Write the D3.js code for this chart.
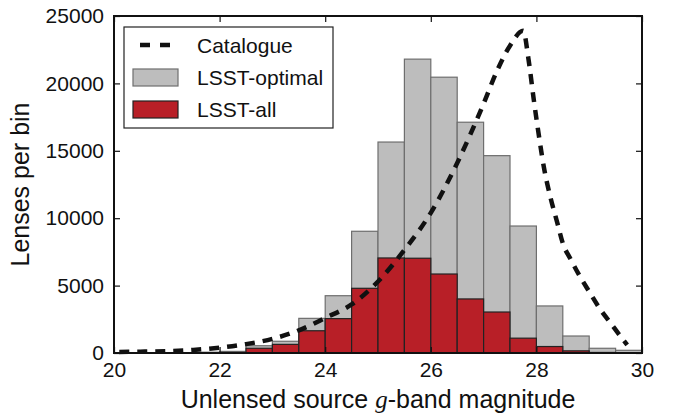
<!DOCTYPE html>
<html>
<head>
<meta charset="utf-8">
<script src="https://d3js.org/d3.v7.min.js"></script>
<style>
  body { margin: 0; background: #fff; }
  svg text { font-family: "Liberation Sans", Arial, sans-serif; fill: #111; }
</style>
</head>
<body>
<svg id="chart" width="680" height="416"></svg>
<script>
// lower edge of each 0.5-mag bin
var binLo = [20.0, 20.5, 21.0, 21.5, 22.0, 22.5, 23.0, 23.5, 24.0, 24.5,
             25.0, 25.5, 26.0, 26.5, 27.0, 27.5, 28.0, 28.5, 29.0, 29.5];
var binWidth = 0.5;
var lsstOptimal = [0, 10, 30, 60, 120, 540, 870, 2570, 4250, 9030,
                   15650, 21800, 20460, 17120, 14640, 9420, 3490, 1260, 350, 200];
var lsstAll = [0, 0, 10, 20, 40, 350, 640, 1650, 2550, 4800,
               7050, 7030, 5860, 4010, 3040, 1100, 480, 160, 40, 15];

// catalogue curve
var catMag = [20.1, 20.5, 21.0, 21.5, 22.0, 22.5, 23.0, 23.5, 24.0, 24.5, 25.0, 25.5,
              26.0, 26.5, 27.0, 27.25, 27.5, 27.75, 27.85, 27.95, 28.05, 28.15, 28.25,
              28.4, 28.5, 28.65, 28.8, 29.0, 29.2, 29.4, 29.6, 29.72];
var catCount = [80, 100, 140, 230, 400, 660, 1050, 1680, 2600, 3600, 5300, 7650,
                10400, 14100, 18500, 20900, 22800, 23900, 21800, 18800, 16050, 13600, 11800,
                9600, 8140, 6950, 5850, 4550, 3300, 2250, 1200, 600];

var xTicks = [20, 22, 24, 26, 28, 30];
var yTicks = [0, 5000, 10000, 15000, 20000, 25000];

var svg = d3.select("#chart");
var margin = {top: 16, right: 38, bottom: 63, left: 114},
    width = 680 - margin.left - margin.right,
    height = 416 - margin.top - margin.bottom;

var x = d3.scaleLinear().domain([20, 30]).range([0, width]);
var y = d3.scaleLinear().domain([0, 25000]).range([height, 0]);

var g = svg.append("g")
    .attr("transform", "translate(" + margin.left + "," + margin.top + ")");

var bins = binLo.map(function(d, i) {
    return {lo: d, hi: d + binWidth, opt: lsstOptimal[i], all: lsstAll[i]};
});

// grey bars
g.selectAll(".opt")
    .data(bins)
    .enter().append("rect")
    .attr("class", "opt")
    .attr("x", function(d) { return x(d.lo); })
    .attr("width", function(d) { return x(d.hi) - x(d.lo); })
    .attr("y", function(d) { return y(d.opt); })
    .attr("height", function(d) { return y(0) - y(d.opt); })
    .attr("fill", "#bdbdbd")
    .attr("stroke", "#6e6e6e")
    .attr("stroke-width", 1.2);

// red bars
g.selectAll(".all")
    .data(bins)
    .enter().append("rect")
    .attr("class", "all")
    .attr("x", function(d) { return x(d.lo); })
    .attr("width", function(d) { return x(d.hi) - x(d.lo); })
    .attr("y", function(d) { return y(d.all); })
    .attr("height", function(d) { return y(0) - y(d.all); })
    .attr("fill", "#b81f27")
    .attr("stroke", "#222")
    .attr("stroke-width", 1.2);

// catalogue dashed line
var line = d3.line()
    .x(function(d) { return x(d[0]); })
    .y(function(d) { return y(d[1]); })
    .curve(d3.curveMonotoneX);

g.append("path")
    .datum(catMag.map(function(m, i) { return [m, catCount[i]]; }))
    .attr("d", line)
    .attr("fill", "none")
    .attr("stroke", "#111")
    .attr("stroke-width", 4.5)
    .attr("stroke-dasharray", "10,8");

// axes with inward ticks
var xAxis = g.append("g")
    .attr("transform", "translate(0," + height + ")")
    .call(d3.axisBottom(x).tickValues(xTicks).tickSize(-6).tickPadding(9).tickFormat(d3.format("d")));
var xTop = g.append("g")
    .call(d3.axisTop(x).tickValues(xTicks).tickSize(-6).tickFormat(""));
var yAxis = g.append("g")
    .call(d3.axisLeft(y).tickValues(yTicks).tickSize(-6).tickPadding(10).tickFormat(d3.format("d")));
var yRight = g.append("g")
    .attr("transform", "translate(" + width + ",0)")
    .call(d3.axisRight(y).tickValues(yTicks).tickSize(-6).tickFormat(""));

[xAxis, xTop, yAxis, yRight].forEach(function(a) {
    a.select(".domain").remove();
    a.selectAll("line").attr("stroke", "#111").attr("stroke-width", 1.2);
    a.selectAll("text").style("font-size", "21px").attr("fill", "#111");
});

// frame
g.append("rect")
    .attr("width", width)
    .attr("height", height)
    .attr("fill", "none")
    .attr("stroke", "#111")
    .attr("stroke-width", 2);

// axis titles
var xt = g.append("text")
    .attr("x", width / 2)
    .attr("y", height + 55)
    .attr("text-anchor", "middle")
    .style("font-size", "25px");
xt.append("tspan").text("Unlensed source ");
xt.append("tspan").style("font-family", "'Liberation Serif', 'DejaVu Serif', serif")
    .style("font-style", "italic").text("g");
xt.append("tspan").text("-band magnitude");

g.append("text")
    .attr("transform", "translate(" + (-85) + "," + (height / 2) + ") rotate(-90)")
    .attr("text-anchor", "middle")
    .style("font-size", "25px")
    .text("Lenses per bin");

// legend
var legend = svg.append("g").attr("transform", "translate(124,27)");
legend.append("rect")
    .attr("width", 209)
    .attr("height", 101)
    .attr("fill", "#fff")
    .attr("stroke", "#222")
    .attr("stroke-width", 1.2);

var items = [
    {label: "Catalogue", type: "line"},
    {label: "LSST-optimal", type: "opt"},
    {label: "LSST-all", type: "all"}
];
items.forEach(function(it, i) {
    var cy = 18 + i * 32;
    if (it.type === "line") {
        legend.append("line")
            .attr("x1", 16).attr("x2", 46)
            .attr("y1", cy).attr("y2", cy)
            .attr("stroke", "#111")
            .attr("stroke-width", 4.5)
            .attr("stroke-dasharray", "10,10");
    } else {
        legend.append("rect")
            .attr("x", 9).attr("y", cy - 8)
            .attr("width", 45).attr("height", 17)
            .attr("fill", it.type === "opt" ? "#bdbdbd" : "#b81f27")
            .attr("stroke", it.type === "opt" ? "#6e6e6e" : "#222")
            .attr("stroke-width", 1.2);
    }
    legend.append("text")
        .attr("x", 73)
        .attr("y", cy)
        .attr("dy", "0.36em")
        .style("font-size", "21px")
        .text(it.label);
});
</script>
</body>
</html>
